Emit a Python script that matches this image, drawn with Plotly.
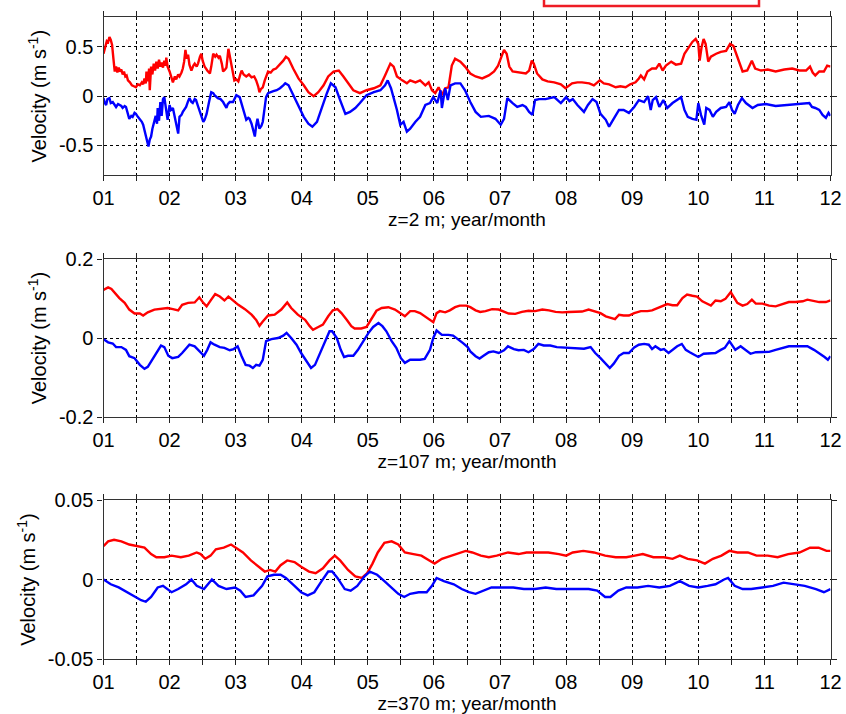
import plotly.graph_objects as go

# ---------------- data (month of year, velocity m/s) ----------------
# Panel 1 : z = 2 m
t1_red = [1.00,1.03,1.05,1.07,1.09,1.11,1.13,1.15,1.17,1.19,1.21,1.23,1.25,1.27,1.29,1.31,1.33,1.35,1.37,1.40,
          1.43,1.46,1.49,1.52,1.55,1.58,1.60,1.62,1.64,1.65,1.67,1.69,1.70,1.72,1.74,1.76,1.78,1.80,1.82,1.84,
          1.86,1.88,1.90,1.92,1.94,1.95,1.97,2.00,2.03,2.05,2.08,2.10,2.13,2.15,2.18,2.20,2.22,2.24,2.26,2.28,
          2.30,2.33,2.36,2.38,2.41,2.43,2.46,2.48,2.50,2.53,2.57,2.61,2.63,2.66,2.69,2.71,2.74,2.76,2.79,2.81,
          2.84,2.86,2.89,2.91,2.93,2.96,2.98,3.01,3.04,3.07,3.09,3.12,3.16,3.20,3.24,3.28,3.31,3.34,3.36,3.38,
          3.41,3.44,3.47,3.49,3.53,3.57,3.61,3.64,3.68,3.72,3.76,3.80,3.87,3.95,4.03,4.10,4.18,4.25,4.33,4.40,
          4.48,4.56,4.63,4.71,4.78,4.88,4.98,5.09,5.19,5.26,5.34,5.39,5.44,5.52,5.59,5.64,5.72,5.79,5.87,5.92,
          5.97,6.02,6.07,6.12,6.17,6.22,6.27,6.32,6.40,6.47,6.55,6.63,6.73,6.83,6.91,6.97,7.03,7.06,7.10,7.14,
          7.19,7.29,7.39,7.44,7.48,7.51,7.56,7.64,7.72,7.82,7.92,7.99,8.04,8.09,8.17,8.24,8.35,8.42,8.51,8.57,
          8.65,8.75,8.82,8.90,8.97,9.05,9.10,9.13,9.18,9.23,9.30,9.36,9.41,9.46,9.51,9.59,9.66,9.74,9.79,9.84,
          9.91,9.96,10.00,10.02,10.05,10.08,10.11,10.15,10.19,10.27,10.34,10.42,10.48,10.53,10.59,10.64,10.67,10.74,10.81,10.86,
          10.95,11.05,11.17,11.30,11.42,11.53,11.63,11.69,11.73,11.77,11.83,11.90,11.95,12.00]
v1_red = [0.43,0.52,0.56,0.55,0.60,0.57,0.52,0.38,0.25,0.30,0.24,0.29,0.25,0.27,0.22,0.25,0.20,0.21,0.16,0.14,
          0.11,0.10,0.09,0.12,0.11,0.14,0.12,0.18,0.13,0.25,0.15,0.28,0.06,0.30,0.22,0.33,0.26,0.35,0.28,0.37,
          0.30,0.34,0.29,0.36,0.31,0.39,0.30,0.25,0.18,0.14,0.20,0.17,0.22,0.20,0.24,0.28,0.35,0.47,0.38,0.42,
          0.32,0.26,0.31,0.33,0.30,0.33,0.40,0.43,0.36,0.30,0.26,0.23,0.30,0.43,0.40,0.42,0.39,0.41,0.33,0.25,
          0.27,0.29,0.48,0.40,0.33,0.22,0.16,0.17,0.15,0.22,0.26,0.22,0.20,0.22,0.19,0.20,0.16,0.10,0.04,0.07,
          0.09,0.16,0.22,0.25,0.24,0.27,0.28,0.30,0.33,0.36,0.40,0.38,0.28,0.18,0.11,0.04,0.00,0.04,0.11,0.20,
          0.25,0.26,0.20,0.13,0.06,0.03,0.06,0.08,0.11,0.21,0.33,0.30,0.20,0.16,0.13,0.16,0.14,0.16,0.11,0.14,
          0.06,0.03,0.09,0.01,0.08,0.09,0.31,0.38,0.35,0.30,0.23,0.20,0.18,0.21,0.25,0.31,0.43,0.47,0.43,0.30,
          0.25,0.24,0.23,0.26,0.36,0.33,0.23,0.17,0.15,0.14,0.12,0.08,0.11,0.13,0.14,0.14,0.13,0.11,0.16,0.13,
          0.12,0.09,0.10,0.09,0.12,0.14,0.18,0.21,0.17,0.25,0.28,0.28,0.33,0.26,0.31,0.35,0.32,0.33,0.43,0.48,
          0.55,0.58,0.53,0.36,0.50,0.58,0.53,0.35,0.40,0.43,0.45,0.46,0.53,0.51,0.40,0.31,0.25,0.26,0.36,0.28,
          0.26,0.27,0.25,0.27,0.28,0.26,0.26,0.30,0.24,0.21,0.25,0.25,0.31,0.30]

t1_blue = [1.00,1.02,1.04,1.06,1.09,1.11,1.14,1.17,1.19,1.22,1.24,1.27,1.29,1.32,1.34,1.37,1.39,1.42,1.44,1.47,
           1.49,1.52,1.55,1.58,1.60,1.63,1.65,1.67,1.68,1.70,1.72,1.74,1.77,1.79,1.81,1.82,1.84,1.86,1.88,1.90,
           1.92,1.94,1.95,1.97,2.00,2.02,2.05,2.07,2.09,2.11,2.13,2.15,2.18,2.20,2.23,2.25,2.28,2.30,2.33,2.35,
           2.38,2.40,2.43,2.45,2.48,2.51,2.53,2.56,2.60,2.63,2.66,2.68,2.73,2.77,2.81,2.84,2.86,2.88,2.91,2.96,
           2.99,3.01,3.06,3.09,3.11,3.14,3.16,3.19,3.21,3.24,3.26,3.29,3.31,3.33,3.36,3.39,3.41,3.44,3.46,3.49,
           3.52,3.57,3.62,3.67,3.72,3.75,3.80,3.87,3.95,4.03,4.10,4.16,4.23,4.30,4.38,4.44,4.51,4.58,4.66,4.73,
           4.81,4.88,4.98,5.09,5.19,5.26,5.30,5.35,5.39,5.44,5.49,5.54,5.59,5.64,5.72,5.79,5.87,5.94,5.99,6.05,
           6.10,6.12,6.17,6.21,6.25,6.32,6.40,6.47,6.55,6.63,6.71,6.83,6.93,7.01,7.06,7.11,7.19,7.26,7.34,7.39,
           7.44,7.49,7.53,7.59,7.69,7.82,7.92,8.00,8.05,8.10,8.17,8.27,8.33,8.40,8.46,8.52,8.60,8.65,8.71,8.80,
           8.87,8.95,9.03,9.10,9.18,9.24,9.28,9.31,9.36,9.41,9.47,9.53,9.61,9.69,9.74,9.79,9.84,9.91,9.97,10.00,
           10.04,10.09,10.12,10.17,10.22,10.27,10.34,10.42,10.47,10.51,10.55,10.60,10.66,10.72,10.82,10.90,11.02,11.17,11.32,11.47,
           11.60,11.68,11.72,11.77,11.83,11.88,11.93,11.97,12.00]
v1_blue = [-0.02,-0.07,-0.09,-0.03,-0.02,-0.07,-0.06,-0.09,-0.11,-0.08,-0.09,-0.10,-0.12,-0.10,-0.11,-0.18,-0.23,-0.20,-0.21,-0.17,
           -0.18,-0.21,-0.23,-0.26,-0.29,-0.38,-0.43,-0.48,-0.51,-0.44,-0.41,-0.33,-0.24,-0.20,-0.28,-0.12,-0.25,-0.06,-0.20,-0.03,
           -0.01,-0.12,-0.18,-0.24,-0.09,-0.14,-0.12,-0.19,-0.26,-0.33,-0.38,-0.21,-0.19,-0.16,-0.13,-0.11,-0.05,-0.02,-0.06,-0.07,
           -0.03,-0.04,-0.10,-0.14,-0.22,-0.26,-0.24,-0.18,-0.05,0.04,0.03,0.01,-0.02,-0.03,-0.06,-0.09,-0.12,-0.08,-0.06,-0.06,
           -0.02,0.01,-0.01,-0.08,-0.14,-0.20,-0.24,-0.22,-0.23,-0.28,-0.34,-0.41,-0.30,-0.23,-0.33,-0.30,-0.26,-0.12,-0.01,0.03,
           0.04,0.05,0.06,0.08,0.11,0.13,0.11,0.01,-0.11,-0.21,-0.28,-0.31,-0.26,-0.12,0.03,0.13,0.09,-0.04,-0.18,-0.16,
           -0.12,-0.07,0.01,0.04,0.06,0.11,0.16,0.08,-0.01,-0.14,-0.29,-0.26,-0.36,-0.33,-0.26,-0.21,-0.09,-0.07,-0.01,-0.07,
           0.06,-0.12,0.08,-0.04,0.11,0.13,0.13,0.06,-0.06,-0.16,-0.21,-0.20,-0.23,-0.29,-0.23,-0.02,-0.07,-0.11,-0.09,-0.11,
           -0.16,-0.19,-0.04,-0.03,-0.03,-0.01,-0.07,-0.01,-0.05,-0.03,-0.09,-0.16,-0.09,-0.03,-0.06,-0.18,-0.24,-0.31,-0.24,-0.14,
           -0.14,-0.17,-0.11,-0.04,-0.06,0.00,-0.14,-0.04,-0.01,-0.11,-0.04,-0.12,-0.07,-0.03,-0.01,-0.14,-0.21,-0.23,-0.24,-0.07,
           -0.19,-0.29,-0.12,-0.14,-0.21,-0.16,-0.12,-0.11,-0.06,-0.14,-0.18,-0.09,-0.02,-0.07,-0.12,-0.09,-0.08,-0.10,-0.09,-0.08,
           -0.07,-0.07,-0.11,-0.12,-0.14,-0.19,-0.22,-0.17,-0.20]

# Panel 2 : z = 107 m
t2_red = [1.00,1.07,1.12,1.17,1.24,1.32,1.39,1.47,1.55,1.60,1.67,1.77,1.87,1.97,2.05,2.13,2.19,2.28,2.38,2.45,
          2.51,2.56,2.63,2.69,2.76,2.83,2.89,2.96,3.04,3.14,3.24,3.31,3.36,3.41,3.49,3.59,3.69,3.78,3.84,3.94,
          4.05,4.12,4.17,4.25,4.32,4.40,4.47,4.54,4.60,4.68,4.75,4.80,4.90,4.98,5.06,5.13,5.21,5.31,5.41,5.49,
          5.56,5.64,5.71,5.79,5.86,5.94,5.99,6.04,6.09,6.17,6.24,6.32,6.39,6.49,6.55,6.63,6.70,6.78,6.88,6.98,
          7.06,7.13,7.23,7.33,7.43,7.53,7.64,7.74,7.84,7.94,8.04,8.14,8.24,8.34,8.44,8.52,8.60,8.67,8.74,8.80,
          8.87,8.95,9.03,9.13,9.23,9.30,9.38,9.45,9.53,9.61,9.68,9.76,9.83,9.91,9.98,10.06,10.14,10.19,10.26,10.34,
          10.41,10.49,10.54,10.59,10.67,10.74,10.81,10.87,10.97,11.07,11.17,11.27,11.37,11.47,11.58,11.65,11.73,11.83,11.93,12.00]
v2_red = [0.122,0.128,0.124,0.114,0.101,0.089,0.072,0.062,0.062,0.057,0.065,0.072,0.074,0.076,0.073,0.070,0.084,0.089,0.090,0.103,
          0.089,0.080,0.097,0.111,0.105,0.095,0.105,0.095,0.084,0.073,0.059,0.046,0.031,0.042,0.057,0.059,0.072,0.090,0.076,0.059,
          0.046,0.030,0.021,0.028,0.034,0.055,0.070,0.073,0.063,0.046,0.030,0.024,0.024,0.028,0.051,0.069,0.076,0.078,0.072,0.062,
          0.055,0.068,0.068,0.063,0.055,0.045,0.040,0.063,0.068,0.065,0.070,0.078,0.082,0.082,0.078,0.070,0.066,0.068,0.073,0.072,
          0.066,0.062,0.061,0.066,0.069,0.068,0.072,0.070,0.066,0.065,0.066,0.067,0.067,0.072,0.068,0.063,0.055,0.051,0.048,0.059,
          0.057,0.057,0.063,0.068,0.068,0.070,0.076,0.082,0.086,0.083,0.083,0.101,0.110,0.107,0.105,0.093,0.087,0.082,0.095,0.093,
          0.099,0.116,0.103,0.089,0.082,0.086,0.097,0.087,0.087,0.082,0.080,0.086,0.091,0.091,0.093,0.097,0.095,0.091,0.091,0.095]

t2_blue = [1.00,1.07,1.14,1.19,1.27,1.34,1.39,1.47,1.55,1.62,1.67,1.75,1.82,1.87,1.92,1.98,2.04,2.13,2.19,2.25,
           2.30,2.38,2.45,2.52,2.57,2.62,2.68,2.76,2.83,2.91,2.97,3.03,3.09,3.15,3.21,3.26,3.31,3.36,3.41,3.46,
           3.54,3.64,3.72,3.77,3.84,3.92,3.99,4.07,4.14,4.20,4.27,4.35,4.42,4.46,4.53,4.59,4.64,4.70,4.78,4.85,
           4.93,5.01,5.08,5.16,5.22,5.28,5.36,5.43,5.50,5.56,5.64,5.71,5.79,5.86,5.94,5.99,6.04,6.12,6.22,6.29,
           6.37,6.44,6.51,6.55,6.63,6.69,6.75,6.83,6.90,6.98,7.06,7.12,7.21,7.28,7.36,7.43,7.51,7.58,7.66,7.76,
           7.86,7.96,8.07,8.17,8.27,8.37,8.44,8.52,8.60,8.66,8.72,8.80,8.87,8.95,9.03,9.10,9.18,9.25,9.30,9.35,
           9.43,9.48,9.55,9.61,9.68,9.75,9.81,9.87,9.93,10.00,10.08,10.18,10.26,10.34,10.40,10.47,10.51,10.56,10.64,10.72,
           10.79,10.87,10.97,11.07,11.17,11.27,11.37,11.47,11.58,11.65,11.75,11.83,11.91,11.96,12.00]
v2_blue = [-0.003,-0.011,-0.014,-0.023,-0.023,-0.030,-0.046,-0.051,-0.068,-0.078,-0.073,-0.051,-0.030,-0.019,-0.023,-0.045,-0.051,-0.048,-0.038,-0.025,
           -0.017,-0.021,-0.034,-0.045,-0.030,-0.011,-0.017,-0.023,-0.025,-0.031,-0.028,-0.021,-0.046,-0.068,-0.070,-0.076,-0.068,-0.070,-0.055,-0.008,
           -0.003,0.000,0.006,0.013,0.000,-0.017,-0.038,-0.059,-0.076,-0.068,-0.042,-0.013,0.017,0.017,0.000,-0.030,-0.048,-0.045,-0.045,-0.030,
           -0.008,0.013,0.028,0.038,0.030,0.017,-0.008,-0.025,-0.051,-0.063,-0.055,-0.055,-0.055,-0.053,-0.030,0.000,0.019,0.008,0.008,0.006,
           -0.003,-0.013,-0.023,-0.034,-0.046,-0.052,-0.045,-0.036,-0.034,-0.038,-0.031,-0.021,-0.028,-0.031,-0.030,-0.036,-0.028,-0.015,-0.019,-0.019,
           -0.023,-0.024,-0.025,-0.027,-0.027,-0.023,-0.038,-0.051,-0.065,-0.076,-0.065,-0.045,-0.038,-0.038,-0.024,-0.017,-0.015,-0.017,-0.028,-0.021,
           -0.030,-0.028,-0.038,-0.030,-0.021,-0.015,-0.030,-0.036,-0.042,-0.048,-0.040,-0.038,-0.038,-0.030,-0.025,-0.008,-0.017,-0.030,-0.021,-0.030,
           -0.040,-0.036,-0.036,-0.035,-0.030,-0.025,-0.021,-0.021,-0.021,-0.021,-0.030,-0.038,-0.048,-0.055,-0.046]

# Panel 3 : z = 370 m
t3_red = [1.00,1.07,1.16,1.27,1.39,1.52,1.62,1.72,1.80,1.92,2.03,2.17,2.29,2.41,2.47,2.54,2.62,2.70,2.82,2.93,
          3.03,3.11,3.23,3.35,3.44,3.52,3.60,3.68,3.78,3.89,3.99,4.11,4.21,4.32,4.42,4.50,4.58,4.70,4.81,4.91,
          4.99,5.07,5.15,5.25,5.36,5.46,5.56,5.69,5.81,5.93,6.01,6.12,6.26,6.38,6.48,6.58,6.71,6.83,6.95,7.12,
          7.28,7.40,7.57,7.73,7.89,8.00,8.10,8.26,8.42,8.59,8.75,8.91,9.04,9.16,9.32,9.48,9.61,9.72,9.84,9.98,
          10.10,10.22,10.35,10.47,10.59,10.75,10.88,11.05,11.20,11.36,11.53,11.69,11.82,11.94,12.00]
v3_red = [0.021,0.024,0.025,0.024,0.022,0.021,0.020,0.016,0.014,0.014,0.015,0.014,0.015,0.017,0.016,0.013,0.015,0.019,0.020,0.022,
          0.019,0.017,0.012,0.008,0.005,0.006,0.005,0.009,0.012,0.011,0.008,0.005,0.004,0.007,0.012,0.015,0.012,0.006,0.002,0.001,
          0.004,0.010,0.017,0.023,0.024,0.022,0.017,0.016,0.015,0.012,0.010,0.013,0.015,0.017,0.018,0.017,0.015,0.014,0.015,0.017,
          0.016,0.017,0.017,0.017,0.016,0.015,0.017,0.018,0.017,0.015,0.014,0.014,0.015,0.016,0.014,0.014,0.013,0.015,0.013,0.012,
          0.010,0.013,0.015,0.018,0.017,0.017,0.015,0.015,0.014,0.016,0.017,0.020,0.020,0.018,0.018]

t3_blue = [1.00,1.11,1.23,1.35,1.47,1.57,1.64,1.72,1.82,1.90,2.03,2.13,2.25,2.33,2.41,2.52,2.64,2.74,2.86,2.99,
           3.07,3.15,3.27,3.40,3.48,3.58,3.68,3.76,3.89,3.99,4.09,4.19,4.30,4.40,4.46,4.54,4.65,4.74,4.84,4.95,
           5.03,5.14,5.25,5.36,5.46,5.55,5.64,5.77,5.89,5.97,6.04,6.15,6.30,6.42,6.53,6.63,6.75,6.87,7.03,7.20,
           7.36,7.53,7.69,7.85,8.02,8.18,8.34,8.47,8.59,8.67,8.79,8.91,9.08,9.24,9.41,9.57,9.72,9.86,10.00,10.14,
           10.26,10.39,10.45,10.55,10.67,10.80,10.96,11.13,11.29,11.45,11.61,11.78,11.90,12.00]
v3_blue = [0.000,-0.003,-0.005,-0.008,-0.011,-0.013,-0.014,-0.011,-0.005,-0.004,-0.008,-0.006,-0.003,0.000,-0.004,-0.006,0.000,-0.004,-0.006,-0.005,
           -0.007,-0.011,-0.010,-0.004,0.002,0.003,0.003,0.001,-0.004,-0.008,-0.010,-0.008,-0.001,0.005,0.005,0.001,-0.006,-0.007,-0.004,0.002,
           0.005,0.003,-0.001,-0.005,-0.009,-0.011,-0.009,-0.008,-0.008,-0.004,0.001,-0.001,-0.003,-0.006,-0.008,-0.009,-0.007,-0.005,-0.005,-0.005,
           -0.006,-0.006,-0.005,-0.006,-0.006,-0.006,-0.006,-0.007,-0.011,-0.011,-0.007,-0.005,-0.005,-0.004,-0.005,-0.004,-0.001,-0.004,-0.005,-0.004,
           -0.003,0.000,0.001,-0.004,-0.006,-0.006,-0.005,-0.004,-0.002,-0.003,-0.004,-0.006,-0.008,-0.006]

# axis ticks / labels
x_tickvals = [1, 2, 3, 4, 5, 6, 7, 8, 9, 10, 11, 12]
x_ticktext = ["01", "02", "03", "04", "05", "06", "07", "08", "09", "10", "11", "12"]
x_titles = ["z=2 m; year/month", "z=107 m; year/month", "z=370 m; year/month"]
y_ranges = [[-0.8, 0.8], [-0.2, 0.2], [-0.05, 0.05]]
y_tickvals = [[-0.5, 0, 0.5], [-0.2, 0, 0.2], [-0.05, 0, 0.05]]
y_ticktext = [["-0.5", "0", "0.5"], ["-0.2", "0", "0.2"], ["-0.05", "0", "0.05"]]
y_title = "Velocity (m s<sup>-1</sup>)"

# ---------------- layout ----------------
W, H = 846, 714
XL, XR = 103.5, 830.5
panel_px = [(17.3, 175.0), (259.0, 417.0), (500.0, 659.0)]
FONT = "Liberation Sans, Arial, sans-serif"
RED, BLUE = "#ff0000", "#0000ff"

fig = go.Figure()
series = [(t1_red, v1_red, t1_blue, v1_blue), (t2_red, v2_red, t2_blue, v2_blue), (t3_red, v3_red, t3_blue, v3_blue)]
for i, (tr, vr, tb, vb) in enumerate(series):
    xa = "x" if i == 0 else f"x{i+1}"
    ya = "y" if i == 0 else f"y{i+1}"
    fig.add_trace(go.Scatter(x=tr, y=vr, mode="lines", line=dict(color=RED, width=2.4),
                             xaxis=xa, yaxis=ya, showlegend=False, hoverinfo="skip"))
    fig.add_trace(go.Scatter(x=tb, y=vb, mode="lines", line=dict(color=BLUE, width=2.4),
                             xaxis=xa, yaxis=ya, showlegend=False, hoverinfo="skip"))

layout = dict(width=W, height=H, margin=dict(l=0, r=0, t=0, b=0),
              paper_bgcolor="white", plot_bgcolor="white",
              font=dict(family=FONT, size=20, color="black"))
for i in range(3):
    top, bot = panel_px[i]
    xk = "xaxis" if i == 0 else f"xaxis{i+1}"
    yk = "yaxis" if i == 0 else f"yaxis{i+1}"
    ya = "y" if i == 0 else f"y{i+1}"
    xa = "x" if i == 0 else f"x{i+1}"
    common = dict(showline=True, linecolor="#333333", linewidth=1.3, mirror="ticks",
                  ticks="outside", ticklen=5, tickwidth=1, tickcolor="#222222",
                  showgrid=True, gridcolor="black", gridwidth=1, griddash="dot",
                  zeroline=False, automargin=False,
                  tickfont=dict(family=FONT, size=20, color="black"))
    layout[xk] = dict(common, domain=[XL / W, XR / W], range=[1, 12], anchor=ya,
                      tickmode="array", tickvals=x_tickvals, ticktext=x_ticktext,
                      minor=dict(tick0=1, dtick=0.5, ticks="outside", ticklen=5, tickcolor="#222222",
                                 showgrid=True, gridcolor="black", gridwidth=1, griddash="dot"),
                      title=dict(text=x_titles[i], font=dict(family=FONT, size=19), standoff=2))
    layout[yk] = dict(common, domain=[1 - bot / H, 1 - top / H], range=y_ranges[i], anchor=xa,
                      tickmode="array", tickvals=y_tickvals[i], ticktext=y_ticktext[i],
                      title=dict(text=y_title, font=dict(family=FONT, size=20), standoff=6))
fig.update_layout(**layout)

# partially visible (cropped) legend frame at the top
fig.add_shape(type="rect", xref="paper", yref="paper",
              x0=544 / W, x1=759 / W, y0=1 - 6 / H, y1=1 + 30 / H,
              line=dict(color="#ee1c25", width=2.5), fillcolor="rgba(0,0,0,0)")

fig.write_html("out.html")
